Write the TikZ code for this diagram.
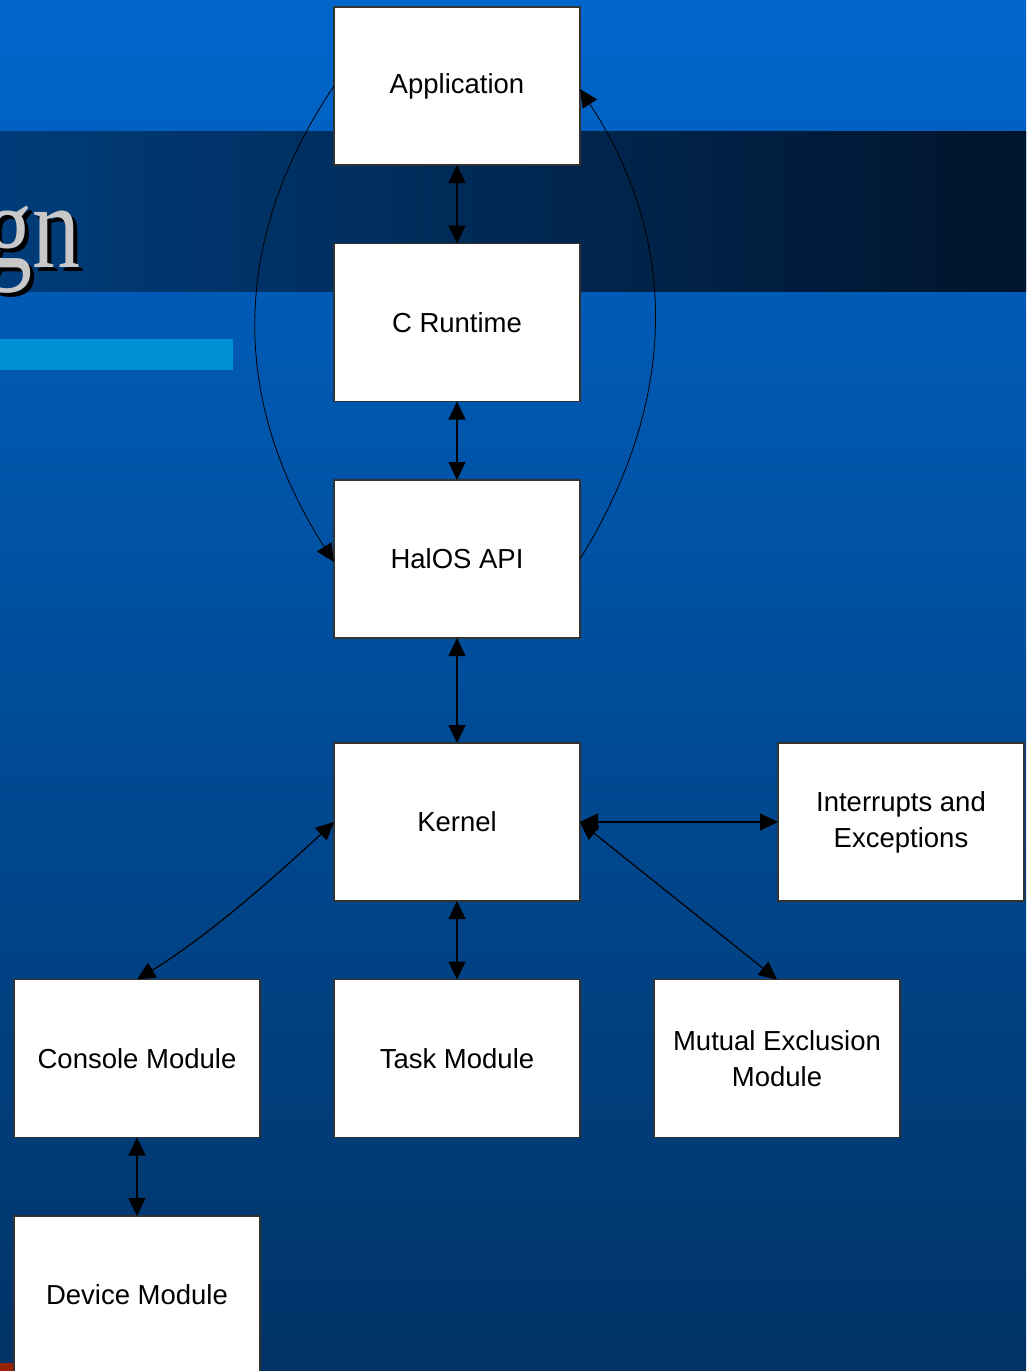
\documentclass[tikz,border=0pt]{standalone}
\usepackage{fontspec}
\usepackage{graphicx}
\setmainfont{Liberation Sans}
\newfontfamily\titlefont{Liberation Serif}
\usetikzlibrary{arrows.meta}
\definecolor{bgtop}{HTML}{0066CC}
\definecolor{bgbot}{HTML}{003366}
\definecolor{bandleft}{HTML}{003C7A}
\definecolor{bandright}{HTML}{00142C}
\definecolor{barblue}{HTML}{0090D5}
\definecolor{redbit}{HTML}{992200}
\definecolor{titlegray}{HTML}{C8C8C8}
\begin{document}
\begin{tikzpicture}[x=1pt,y=-1pt,
  boxst/.style={draw=black!80, fill=white, line width=1.2pt,
    minimum width=246pt, minimum height=158pt, inner sep=0pt, outer sep=0pt,
    align=center, font=\fontsize{27.5}{36}\selectfont},
  tipst/.tip={Triangle[length=18pt,width=17pt]},
  both/.style={line width=1.2pt, tipst-tipst},
  one/.style={line width=1.2pt, -tipst},
  thin/.style={line width=0.8pt, -tipst}]
\useasboundingbox (0,0) rectangle (1026,1371);
% background
\shade[top color=bgtop, bottom color=bgbot] (0,0) rectangle (1026,1371);
\shade[left color=bandleft, right color=bandright] (0,131) rectangle (1026,291);
\fill[barblue] (0,339) rectangle (233,370);
\fill[redbit] (0,1363) rectangle (13,1371);
% title fragment
\node[anchor=base east, text=black, inner sep=0pt] (gnshadow) at (85,271)
  {\titlefont\fontsize{100}{100}\selectfont\scalebox{0.96}[1.2]{gn}};
\node[anchor=base east, text=titlegray, inner sep=0pt] (gn) at (81,267)
  {\titlefont\fontsize{100}{100}\selectfont\scalebox{0.96}[1.2]{gn}};
% boxes
\node[boxst] (app) at (457,86) {Application};
\node[boxst] (crt) at (457,322.5) {C Runtime};
\node[boxst] (hal) at (457,559) {HalOS API};
\node[boxst] (ker) at (457,822) {Kernel};
\node[boxst] (irq) at (901,822) {Interrupts and\\Exceptions};
\node[boxst] (con) at (137,1058.5) {Console Module};
\node[boxst] (task) at (457,1058.5) {Task Module};
\node[boxst] (mut) at (777,1058.5) {Mutual Exclusion\\Module};
\node[boxst] (dev) at (137,1295) {Device Module};
% connectors
\draw[both] (app.south) -- (crt.north);
\draw[both] (crt.south) -- (hal.north);
\draw[both] (hal.south) -- (ker.north);
\draw[both] (ker.south) -- (task.north);
\draw[both] (con.south) -- (dev.north);
\draw[both] (ker.east) -- (irq.west);
\draw[both] (ker.east) -- (mut.north);
\draw[both] (ker.west) .. controls (280,872) and (210,935) .. (con.north);
\draw[thin] (app.west) .. controls (230,240) and (230,400) .. ([yshift=-3pt]hal.west);
\draw[thin] (hal.east) .. controls (679,400) and (679,240) .. ([yshift=-3pt]app.east);
\end{tikzpicture}
\end{document}
